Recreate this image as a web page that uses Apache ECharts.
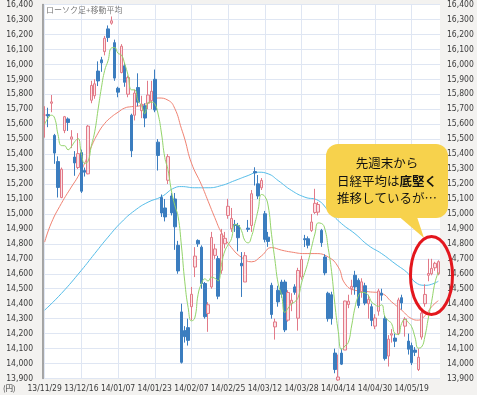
<!DOCTYPE html>
<html><head><meta charset="utf-8">
<script src="https://cdn.jsdelivr.net/npm/echarts@6/dist/echarts.min.js"></script>
<style>html,body{margin:0;padding:0;background:#f3f2f0}#c{width:477px;height:395px}</style>
</head><body><div id="c"></div>
<script>
// x tick labels, one every 11 trading days
const tickLabels = ['13/11/29','13/12/16','14/01/07','14/01/23','14/02/07','14/02/25','14/03/12','14/03/28','14/04/14','14/04/30','14/05/19'];
const tickEvery = 11;
// daily OHLC (yen)
const opens  = [15660,15665,15740,15525,15350,15110,15557,15635,15500,15380,15310,15410,15290,15268,15760,15790,15955,16030,16085,16237,16275,16145,15840,15945,15990,15800,15660,15660,15845,15690,15723,15740,15757,15900,15480,15110,15040,15225,15120,15100,14790,14345,14220,14240,14380,14645,14823,14778,14535,14335,14512,14723,14701,14623,14801,14990,14901,14930,14923,14670,14545,14905,14923,15283,15201,15175,15001,14845,14523,14245,14490,14545,14545,14290,14400,14512,14303,14578,14834,14834,14890,15010,15012,14890,14712,14470,14460,14070,13890,14070,14090,14395,14500,14590,14557,14480,14520,14400,14380,14250,14350,14470,14300,14050,14190,14170,14200,14440,14250,14150,14120,14090,13960,14177,14400,14590,14600,14640,14600];
const closes = [15662,15655,15749,15407,15177,15299,15650,15611,15515,15341,15403,15152,15279,15587,15859,15870,15889,16010,16174,16179,16291,15908,15814,16121,15880,15912,15422,15808,15747,15734,15641,15795,15820,15695,15391,15006,14980,15383,15007,14914,14619,14008,14180,14155,14463,14718,14800,14535,14313,14393,14843,14766,14450,14865,14837,15051,14970,14923,14841,14653,14721,14897,15135,15274,15120,15224,14830,14816,14328,14278,14412,14463,14225,14475,14423,14477,14622,14696,14828,14791,14946,15071,15063,14808,14606,14300,14300,13960,13910,13996,14418,14417,14516,14512,14388,14546,14404,14429,14288,14304,14485,14457,14033,14163,14199,14149,14425,14405,14298,14096,14006,14075,14042,14337,14462,14602,14636,14670,14681];
const lows   = [15510,15580,15680,15335,15110,15105,15540,15555,15440,15255,15300,15140,15250,15265,15740,15770,15855,15950,16060,16150,16265,15890,15780,15940,15850,15780,15380,15625,15720,15640,15580,15700,15700,15680,15290,14980,14950,15200,14990,14760,14600,14000,14140,14120,14290,14578,14780,14500,14300,14212,14500,14700,14430,14600,14770,14968,14880,14880,14750,14445,14545,14880,14880,15190,15100,15160,14810,14780,14300,14160,14380,14440,14210,14280,14350,14460,14220,14560,14779,14770,14880,15000,14990,14780,14590,14280,14260,13935,13885,13990,14090,14370,14460,14460,14370,14440,14390,14300,14250,14230,14320,14420,14020,13980,14140,14110,14190,14360,14180,14060,13990,14050,13950,14160,14380,14550,14590,14620,14590];
const highs  = [15720,15710,15795,15535,15385,15310,15655,15645,15560,15420,15540,15430,15310,15595,15890,15900,16020,16050,16190,16260,16320,16165,15850,16135,16010,15925,15670,15830,15940,15790,15740,15890,15890,15965,15500,15130,15100,15400,15140,15140,14820,14400,14250,14300,14512,14778,14830,14790,14545,14410,14880,14800,14720,14900,14880,15101,15040,14960,14940,14745,14745,14960,15160,15312,15260,15240,15020,14880,14540,14300,14520,14560,14560,14490,14470,14530,14640,14720,14860,14850,15000,15168,15080,14900,14730,14480,14480,14100,14060,14100,14420,14460,14560,14620,14570,14570,14540,14460,14400,14330,14500,14500,14320,14190,14230,14200,14440,14460,14310,14200,14140,14110,14100,14350,14530,14700,14700,14680,14690];
// 5-day MA values before enough closes exist
const ma5Lead = [15600,15640,15660,15640];
// 25-day MA: [day index, value]
const ma25Points = [[0,14812],[2,14940],[5,15070],[8,15180],[10,15250],[12,15340],[14,15450],[16,15540],[18,15605],[20,15648],[22,15680],[24,15708],[26,15717],[29,15725],[32,15757],[34,15775],[37,15760],[39,15705],[41,15570],[42,15500],[44,15340],[47,15195],[49,15085],[51,14975],[53,14875],[56,14775],[59,14710],[62,14680],[65,14720],[68,14775],[71,14758],[74,14745],[78,14735],[81,14735],[85,14712],[88,14645],[90,14535],[93,14490],[97,14480],[101,14468],[104,14412],[107,14357],[110,14300],[112,14290],[114,14320],[116,14380],[118,14420]];
// 75-day MA
const ma75Points = [[0,14357],[5,14468],[11,14623],[15,14735],[19,14845],[23,14945],[27,15023],[31,15079],[35,15115],[39,15175],[41,15183],[45,15175],[49,15175],[53,15190],[57,15223],[61,15257],[64,15279],[67,15268],[70,15223],[74,15157],[78,15112],[82,15090],[85,15023],[89,14935],[93,14868],[97,14790],[101,14735],[105,14668],[109,14601],[111,14545],[114,14523],[116,14530],[118,14550]];

const yMin = 13900, yMax = 16400, yStep = 100;

const days = closes.map((_, i) => String(i));
const candles = opens.map((o, i) => [o, closes[i], lows[i], highs[i]]);
const ma5 = closes.map((c, i) => {
  if (i < 4) return ma5Lead[i];
  let s = 0; for (let k = i - 4; k <= i; k++) s += closes[k];
  return Math.round(s / 5);
});

const fmt = v => v.toLocaleString('en-US');
const chart = echarts.init(document.getElementById('c'), null, {renderer: 'canvas'});
const narrow = "'Liberation Sans Narrow', 'DejaVu Sans Condensed', 'Liberation Sans', Arial, sans-serif";
const labelFont = {fontFamily: narrow, fontSize: 8.5, color: '#3a3a3a'};
const gridColor = '#dfe6f3';

chart.setOption({
  animation: false,
  backgroundColor: '#f3f2f0',
  grid: {left: 43, right: 37, top: 3.5, bottom: 16.5, show: true, backgroundColor: '#ffffff', borderWidth: 0},
  xAxis: {
    type: 'category', data: days, boundaryGap: true,
    axisLine: {show: false}, axisTick: {show: false},
    axisLabel: Object.assign({
      interval: (i) => i % tickEvery === 0,
      formatter: (v, i) => (i % tickEvery === 0 ? tickLabels[i / tickEvery] : ''),
      margin: 6, showMinLabel: true
    }, labelFont),
    splitLine: {show: true, alignWithLabel: true, interval: (i) => i % tickEvery === 0, lineStyle: {color: gridColor, width: 1}}
  },
  yAxis: [
    {type: 'value', min: yMin, max: yMax, interval: yStep, position: 'left',
     axisLine: {show: true, lineStyle: {color: '#8a8a8a', width: 1.5}}, axisTick: {show: false},
     axisLabel: Object.assign({formatter: fmt, margin: 10}, labelFont),
     splitLine: {show: true, lineStyle: {color: gridColor, width: 1}}},
    {type: 'value', min: yMin, max: yMax, interval: yStep, position: 'right',
     axisLine: {show: false}, axisTick: {show: false},
     axisLabel: Object.assign({formatter: fmt, margin: 7}, labelFont),
     splitLine: {show: false}}
  ],
  series: [
    {type: 'line', name: '75MA', data: ma75Points, smooth: true, showSymbol: false, z: 2,
     lineStyle: {color: '#55bde9', width: 1}},
    {type: 'line', name: '25MA', data: ma25Points, smooth: true, showSymbol: false, z: 2,
     lineStyle: {color: '#f08272', width: 1}},
    {type: 'candlestick', data: candles, barWidth: 3, z: 3,
     itemStyle: {color: '#fbe1e5', color0: '#3b7dbf', borderColor: '#e27a88', borderColor0: '#3b7dbf', borderWidth: 1}},
    {type: 'line', name: '5MA', data: ma5, smooth: true, showSymbol: false, z: 4,
     lineStyle: {color: '#93d46a', width: 1}}
  ],
  graphic: [
    {type: 'text', left: 46, top: 6, z: 10, style: {text: 'ローソク足+移動平均', fontFamily: 'Noto Sans CJK JP', fontSize: 8, fill: '#7a7a7a'}},
    {type: 'text', left: 3, top: 384, z: 10, style: {text: '(円)', fontFamily: 'Noto Sans CJK JP', fontSize: 7.5, fill: '#333'}},
    {type: 'polygon', z: 20, shape: {points: [[396, 214], [416, 214], [424, 238]]}, style: {fill: '#f7d24c'}},
    {type: 'rect', z: 20, shape: {x: 326, y: 144, width: 122, height: 74, r: 12}, style: {fill: '#f7d24c'}},
    {type: 'text', z: 21, x: 387, y: 181, style: {
      text: '先週末から\n日経平均は{b|底堅く}\n推移しているが…',
      rich: {b: {fontWeight: 'bold', fontSize: 12.5, fontFamily: 'Noto Sans CJK JP', fill: '#111'}},
      align: 'center', verticalAlign: 'middle', fontFamily: 'Noto Sans CJK JP', fontSize: 12.5, lineHeight: 17.5, fill: '#111'}},
    {type: 'ellipse', z: 22, shape: {cx: 431.5, cy: 275.5, rx: 21, ry: 39}, style: {fill: 'none', stroke: '#e3161d', lineWidth: 3}}
  ]
});
</script></body></html>
